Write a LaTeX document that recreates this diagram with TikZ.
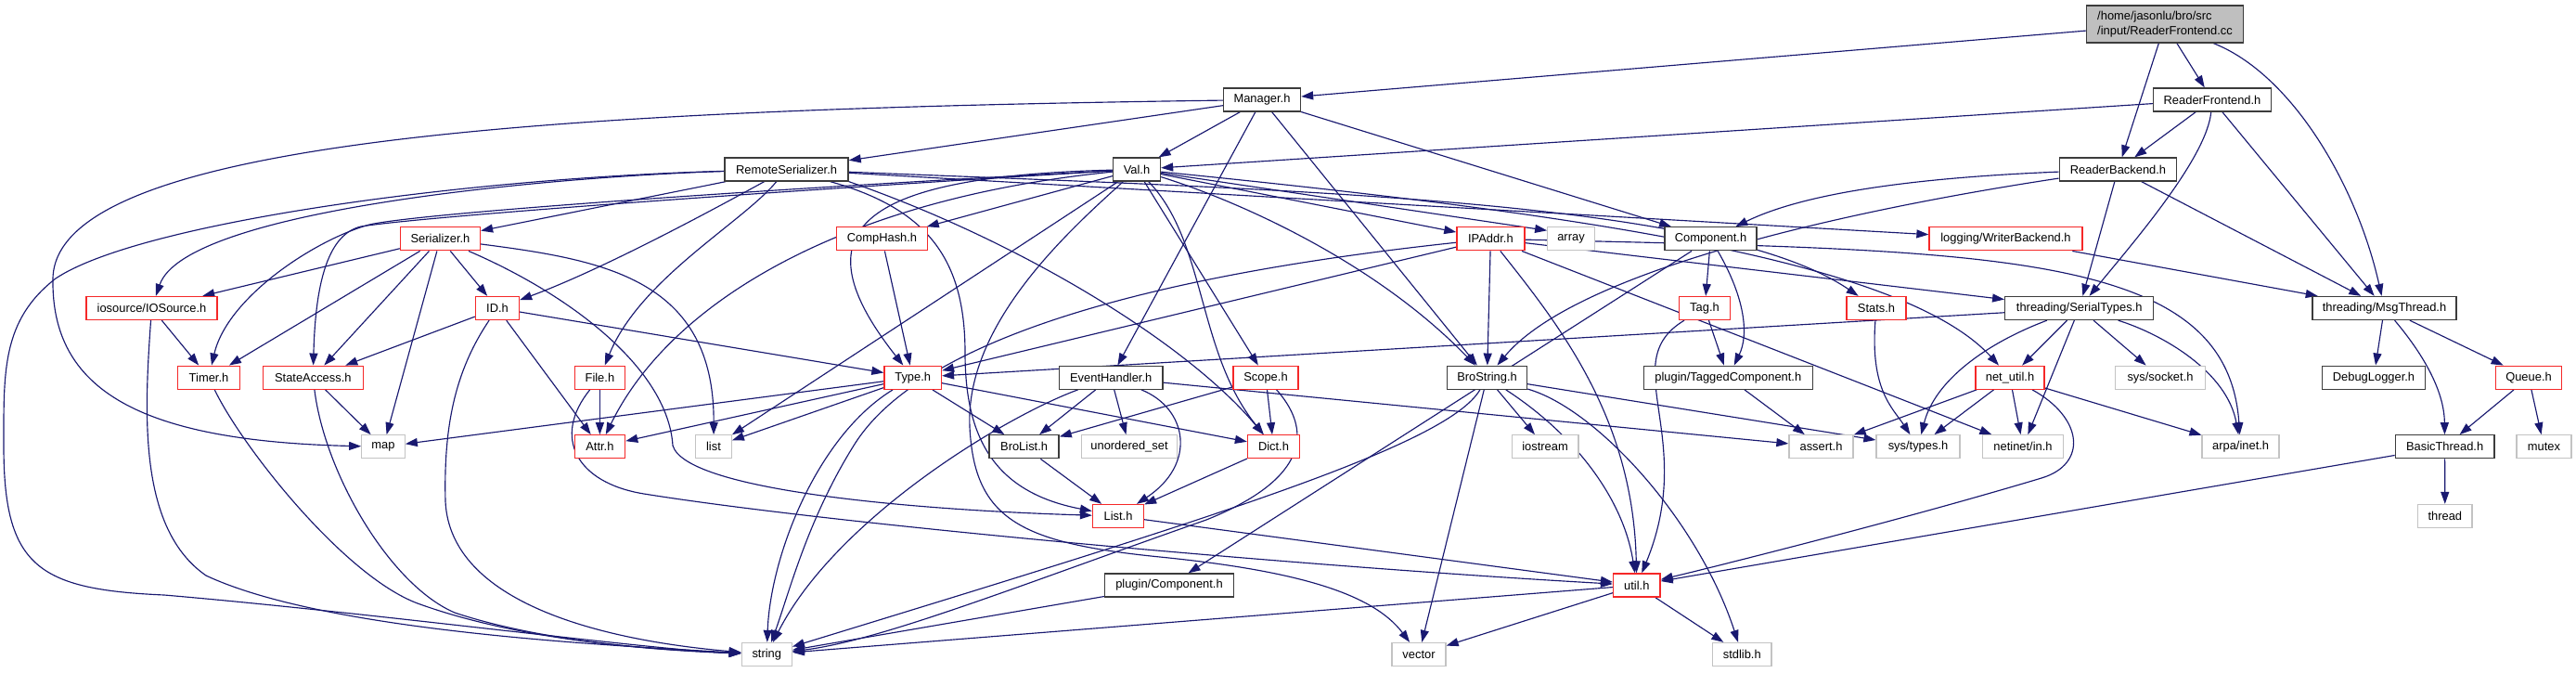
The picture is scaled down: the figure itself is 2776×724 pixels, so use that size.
\documentclass[tikz,border=0pt]{standalone}
\usepackage{fontspec}
\setmainfont{Liberation Sans}
\usetikzlibrary{arrows.meta}
\definecolor{edgec}{RGB}{25,25,112}
\definecolor{redb}{RGB}{245,40,40}
\definecolor{grayb}{RGB}{195,195,195}
\definecolor{blackb}{RGB}{60,60,60}
\definecolor{rootf}{RGB}{191,191,191}
\pgfdeclarelayer{bg}
\pgfsetlayers{bg,main}
\tikzset{
  bx/.style={rectangle, inner sep=0pt, minimum height=25pt, line width=1.3pt, fill=white,
    font=\fontsize{12.9}{15.5}\selectfont},
  bk/.style={bx, draw=blackb},
  rd/.style={bx, draw=redb},
  gr/.style={bx, draw=grayb},
  e/.style={draw=edgec, line width=1.15pt, -{Triangle[length=13pt,width=9pt]}},
}
\begin{document}
\begin{tikzpicture}[x=1pt,y=-1pt]
\useasboundingbox (0,0) rectangle (2776,724);
% row 0
\node[bx, draw=blackb, fill=rootf, minimum height=40pt, minimum width=169pt, align=left] (root) at (2333,26) {/home/jasonlu/bro/src\\/input/ReaderFrontend.cc};
% row 1
\node[bk, minimum width=83pt] (mgr) at (1360,107.5) {Manager.h};
\node[bk, minimum width=126.5pt] (rfh) at (2384,107.5) {ReaderFrontend.h};
% row 2
\node[bk, minimum width=133pt] (rsz) at (847.6,182.5) {RemoteSerializer.h};
\node[bk, minimum width=51pt] (val) at (1225,182.5) {Val.h};
\node[bk, minimum width=126.5pt] (rbh) at (2282.5,182.5) {ReaderBackend.h};
% row 3
\node[rd, minimum width=86pt] (ser) at (474.5,257.3) {Serializer.h};
\node[rd, minimum width=98pt] (comph) at (950.5,257.3) {CompHash.h};
\node[rd, minimum width=73pt] (ipa) at (1606.4,257.3) {IPAddr.h};
\node[gr, minimum width=50.5pt] (arr) at (1693,257.3) {array};
\node[bk, minimum width=99pt] (comp) at (1843.5,257.3) {Component.h};
\node[rd, minimum width=165pt] (wbk) at (2161.5,257.3) {logging/WriterBackend.h};
% row 4
\node[rd, minimum width=141pt] (ios) at (163.5,332) {iosource/IOSource.h};
\node[rd, minimum width=47pt] (id) at (536,332) {ID.h};
\node[rd, minimum width=54.4pt] (tag) at (1837,332) {Tag.h};
\node[rd, minimum width=64pt] (stats) at (2022,332) {Stats.h};
\node[bk, minimum width=160pt] (sty) at (2240.7,332) {threading/SerialTypes.h};
\node[bk, minimum width=155pt] (msg) at (2569.5,332) {threading/MsgThread.h};
% row 5
\node[rd, minimum width=67pt] (timer) at (225,406.7) {Timer.h};
\node[rd, minimum width=108pt] (sacc) at (337.3,406.7) {StateAccess.h};
\node[rd, minimum width=54.4pt] (file) at (646.4,406.7) {File.h};
\node[rd, minimum width=61.5pt] (type) at (983.7,406.7) {Type.h};
\node[bk, minimum width=111.5pt] (evh) at (1197.2,406.7) {EventHandler.h};
\node[rd, minimum width=70pt] (scope) at (1364,406.7) {Scope.h};
\node[bk, minimum width=86pt] (bstr) at (1602.5,406.7) {BroString.h};
\node[bk, minimum width=182pt] (tcomp) at (1862.3,406.7) {plugin/TaggedComponent.h};
\node[rd, minimum width=74pt] (nutil) at (2166,406.7) {net\_util.h};
\node[gr, minimum width=97pt] (ssock) at (2328,406.7) {sys/socket.h};
\node[bk, minimum width=110.7pt] (dlog) at (2558,406.7) {DebugLogger.h};
\node[rd, minimum width=70.4pt] (queue) at (2725,406.7) {Queue.h};
% row 6
\node[gr, minimum width=46.4pt] (map) at (413,481.3) {map};
\node[rd, minimum width=54.4pt] (attr) at (646.4,481.3) {Attr.h};
\node[gr, minimum width=38.5pt] (nlist) at (769,481.3) {list};
\node[bk, minimum width=75pt] (blist) at (1103.6,481.3) {BroList.h};
\node[gr, minimum width=103pt] (uset) at (1217,481.3) {unordered\_set};
\node[rd, minimum width=56pt] (dict) at (1372.5,481.3) {Dict.h};
\node[gr, minimum width=71.7pt] (iostr) at (1665,481.3) {iostream};
\node[gr, minimum width=69pt] (assert) at (1962.5,481.3) {assert.h};
\node[gr, minimum width=90pt] (stypes) at (2067,481.3) {sys/types.h};
\node[gr, minimum width=87pt] (netin) at (2180,481.3) {netinet/in.h};
\node[gr, minimum width=83pt] (arpa) at (2414.6,481.3) {arpa/inet.h};
\node[bk, minimum width=106.6pt] (bth) at (2634.6,481.3) {BasicThread.h};
\node[gr, minimum width=59pt] (mutex) at (2741.5,481.3) {mutex};
% row 7
\node[rd, minimum width=55pt] (nList) at (1205,556) {List.h};
\node[gr, minimum width=58.4pt] (thread) at (2634.8,556) {thread};
% row 8
\node[rd, minimum width=50.5pt] (util) at (1763.8,630.5) {util.h};
\node[bk, minimum width=138.5pt] (pcomp) at (1260,630.5) {plugin/Component.h};
% row 9
\node[gr, minimum width=54pt] (string) at (826.3,705) {string};
\node[gr, minimum width=58pt] (vector) at (1529,705) {vector};
\node[gr, minimum width=63.4pt] (stdlib) at (1877.3,705) {stdlib.h};

\begin{pgfonlayer}{bg}
% root
\draw[e] (root) -- (mgr);
\draw[e] (root) -- (rfh);
\draw[e] (root) -- (rbh);
\draw[e] (root) .. controls (2470,80) and (2540,200) .. (msg);
% Manager
\draw[e] (mgr) .. controls (600,118) and (60,150) .. (57,300) .. controls (55,420) and (150,475) .. (map);
\draw[e] (mgr) -- (rsz);
\draw[e] (mgr) -- (val);
\draw[e] (mgr) -- (evh);
\draw[e] (mgr) -- (bstr);
\draw[e] (mgr) -- (comp);
% ReaderFrontend
\draw[e] (rfh) -- (val);
\draw[e] (rfh) -- (rbh);
\draw[e] (rfh) .. controls (2378,170) and (2300,260) .. (sty);
\draw[e] (rfh) -- (msg);
% ReaderBackend
\draw[e] (rbh) .. controls (2000,225) and (1700,290) .. (bstr);
\draw[e] (rbh) .. controls (2050,192) and (1940,210) .. (comp);
\draw[e] (rbh) -- (sty);
\draw[e] (rbh) -- (msg);
% RemoteSerializer
\draw[e] (rsz) .. controls (600,190) and (200,225) .. (ios);
\draw[e] (rsz) .. controls (500,192) and (150,240) .. (60,300) .. controls (2,345) and (4,400) .. (4,480) .. controls (4,610) and (40,635) .. (177,641) .. controls (400,660) and (700,700) .. (string);
\draw[e] (rsz) -- (ser);
\draw[e] (rsz) .. controls (770,225) and (650,290) .. (id);
\draw[e] (rsz) .. controls (800,240) and (690,300) .. (file);
\draw[e] (rsz) .. controls (1000,225) and (1040,280) .. (1040,380) .. controls (1040,470) and (1070,530) .. (nList);
\draw[e] (rsz.south east) .. controls (1100,260) and (1280,370) .. (dict);
\draw[e] (rsz) -- (wbk);
\draw[e] (rsz) .. controls (1400,205) and (1850,215) .. (stats);
% Val
\draw[e] (val) .. controls (800,205) and (450,230) .. (398,242) .. controls (340,258) and (245,320) .. (timer);
\draw[e] (val) .. controls (800,208) and (450,234) .. (389,244) .. controls (355,252) and (340,300) .. (sacc);
\draw[e] (val) .. controls (900,215) and (720,330) .. (attr);
\draw[e] (val) -- (nlist);
\draw[e] (val) -- (comph);
\draw[e] (val) .. controls (920,190) and (860,250) .. (type);
\draw[e] (val) -- (ipa);
\draw[e] (val) -- ([yshift=9pt]arr.west);
\draw[e] (val) .. controls (1330,215) and (1480,280) .. (bstr);
\draw[e] (val) -- (scope);
\draw[e] (val) .. controls (1300,260) and (1290,380) .. (dict);
\draw[e] (val) .. controls (1700,230) and (2050,280) .. (nutil);
\draw[e] (val) .. controls (1150,250) and (1040,350) .. (1045,460) .. controls (1050,560) and (1100,585) .. (1250,600) .. controls (1400,615) and (1480,640) .. (vector);
% Serializer
\draw[e] (ser) -- (ios);
\draw[e] (ser) -- (timer);
\draw[e] (ser) -- (sacc);
\draw[e] (ser) -- (map);
\draw[e] (ser) -- (id);
\draw[e] (ser) .. controls (650,280) and (770,300) .. (nlist);
\draw[e] (ser) .. controls (620,320) and (720,400) .. (725,480) .. controls (740,530) and (1000,550) .. (nList);
% ID
\draw[e] (id) -- (sacc);
\draw[e] (id) -- (attr);
\draw[e] (id) -- (type);
\draw[e] (id) .. controls (490,400) and (478,460) .. (480,540) .. controls (485,650) and (650,690) .. (string);
% IOSource, Timer, StateAccess, File
\draw[e] (ios) -- (timer);
\draw[e] (ios) .. controls (155,450) and (150,570) .. (222,620) .. controls (350,680) and (650,695) .. (string);
\draw[e] (timer) .. controls (260,480) and (370,620) .. (450,650) .. controls (560,690) and (700,700) .. (string);
\draw[e] (sacc) -- (map);
\draw[e] (sacc) .. controls (350,510) and (420,630) .. (490,660) .. controls (580,690) and (700,700) .. (string);
\draw[e] (file) -- (attr);
\draw[e] (file) .. controls (595,470) and (620,520) .. (694,532) .. controls (900,565) and (1400,610) .. (util);
% Type
\draw[e] (type) -- (map);
\draw[e] (type) -- (attr);
\draw[e] (type) -- (nlist);
\draw[e] (type) -- (blist);
\draw[e] (type) -- (dict);
\draw[e] (type) .. controls (880,470) and (830,600) .. (string);
\draw[e] (comph) -- (type);
% EventHandler
\draw[e] (evh) -- (blist);
\draw[e] (evh) -- (uset);
\draw[e] (evh) .. controls (1280,440) and (1290,500) .. (nList);
\draw[e] (evh) .. controls (1080,450) and (900,560) .. (string);
\draw[e] (evh) -- (assert);
% Scope
\draw[e] (scope) -- (blist);
\draw[e] (scope) -- (dict);
\draw[e] (scope) .. controls (1420,470) and (1400,520) .. (1300,560) .. controls (1100,630) and (950,690) .. (string);
% lists
\draw[e] (blist) -- (nList);
\draw[e] (dict) -- (nList);
\draw[e] (nList) -- (util);
% IPAddr
\draw[e] (ipa) -- (type);
\draw[e] (ipa) .. controls (1300,290) and (1000,350) .. (920,480) .. controls (870,560) and (850,640) .. (string);
\draw[e] (ipa) -- (bstr);
\draw[e] (ipa) .. controls (1680,350) and (1760,450) .. (util);
\draw[e] (ipa) -- (sty);
\draw[e] (ipa) .. controls (2150,270) and (2400,270) .. (arpa);
\draw[e] (ipa) -- (netin);
% Component
\draw[e] (comp) -- (tag);
\draw[e] (comp) .. controls (1880,320) and (1885,360) .. (tcomp);
\draw[e] (comp) -- (pcomp);
\draw[e] (tag) -- (tcomp);
\draw[e] (tag) .. controls (1740,390) and (1830,470) .. (util);
\draw[e] (tcomp) -- (assert);
\draw[e] (stats) .. controls (2015,420) and (2040,440) .. (stypes);
% SerialTypes
\draw[e] (sty) -- (type);
\draw[e] (sty) -- (nutil);
\draw[e] (sty) .. controls (2140,370) and (2085,410) .. (stypes);
\draw[e] (sty) -- (netin);
\draw[e] (sty) -- (ssock);
\draw[e] (sty) .. controls (2330,360) and (2400,400) .. (arpa);
% net_util
\draw[e] (nutil) -- (assert);
\draw[e] (nutil) -- (stypes);
\draw[e] (nutil) -- (netin);
\draw[e] (nutil) -- (arpa);
\draw[e] (nutil) .. controls (2245,450) and (2250,500) .. (2200,515) .. controls (2050,560) and (1850,610) .. (util);
% threads
\draw[e] (wbk) -- (msg);
\draw[e] (msg) -- (dlog);
\draw[e] (msg) .. controls (2610,380) and (2634,420) .. (bth);
\draw[e] (msg) -- (queue);
\draw[e] (queue) -- (bth);
\draw[e] (queue) -- (mutex);
\draw[e] (bth) -- (thread);
\draw[e] (bth) -- (util);
% BroString
\draw[e] (bstr) -- (iostr);
\draw[e] (bstr) .. controls (1700,470) and (1750,540) .. (util);
\draw[e] (bstr) .. controls (1720,440) and (1830,560) .. (stdlib);
\draw[e] (bstr) -- (stypes);
\draw[e] (bstr) -- (vector);
\draw[e] (bstr) .. controls (1560,480) and (1300,560) .. (string);
% util
\draw[e] (util) -- (string);
\draw[e] (util) -- (vector);
\draw[e] (util) -- (stdlib);
\draw[e] (pcomp) -- (string);
\end{pgfonlayer}
\end{tikzpicture}
\end{document}
